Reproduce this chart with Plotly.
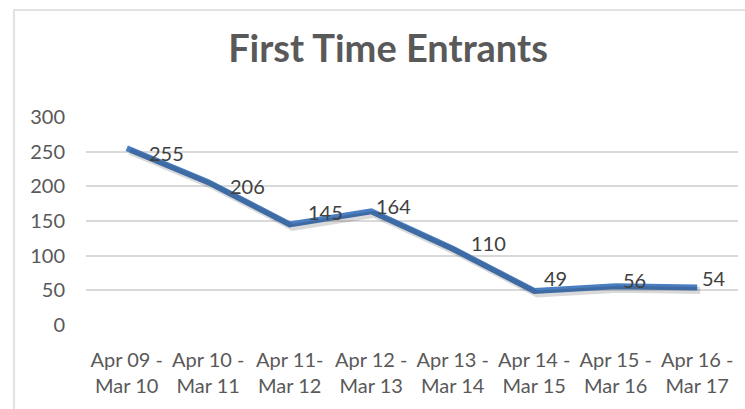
import plotly.graph_objects as go

# ---- data ----
categories = ["Apr 09 -<br>Mar 10", "Apr 10 -<br>Mar 11", "Apr 11-<br>Mar 12", "Apr 12 -<br>Mar 13",
              "Apr 13 -<br>Mar 14", "Apr 14 -<br>Mar 15", "Apr 15 -<br>Mar 16", "Apr 16 -<br>Mar 17"]
entrants = [255, 206, 145, 164, 110, 49, 56, 54]
y_ticks = [0, 50, 100, 150, 200, 250, 300]

# ---- styles ----
LINE_COLOR = "#4A7EC1"
TEXT_COLOR = "#595959"
LABEL_COLOR = "#404040"
GRID_COLOR = "#D9D9D9"
FONT = "Lato"
# label offsets in px (right, down) relative to each point
label_offsets = [(40, 5), (39, 4), (36, -12), (22, -5), (36, -6), (21, -13), (19, -6), (17, -10)]

W, H = 745, 409
L, R, T, B = 86, 7, 117, 84
plot_w = W - L - R
plot_h = H - T - B

x_idx = list(range(len(categories)))

fig = go.Figure()

# shadow (same data drawn on slightly offset overlay axes)
px_per_x = plot_w / 8.0
px_per_y = plot_h / 300.0
sx = 3 / px_per_x
sy = 3 / px_per_y
fig.add_trace(go.Scatter(
    x=x_idx, y=entrants, mode="lines",
    line=dict(color="rgba(0,0,0,0.15)", width=7),
    xaxis="x2", yaxis="y2", hoverinfo="skip", showlegend=False,
))

fig.add_trace(go.Scatter(
    x=x_idx, y=entrants, mode="lines",
    line=dict(color=LINE_COLOR, width=6),
    showlegend=False,
))

annotations = []
for i, v in enumerate(entrants):
    dx, dy = label_offsets[i]
    annotations.append(dict(
        x=i, y=v, xref="x", yref="y", text=str(v), showarrow=False,
        xanchor="center", yanchor="middle", xshift=dx, yshift=-dy,
        font=dict(family=FONT, size=20, color=LABEL_COLOR),
    ))

fig.update_layout(
    width=W, height=H,
    margin=dict(l=L, r=R, t=T, b=B, pad=0),
    paper_bgcolor="white", plot_bgcolor="white",
    title=dict(text="<b>First Time Entrants</b>", x=388 / W, xanchor="center",
               y=1 - 49 / H, yanchor="middle",
               font=dict(family=FONT, size=38, color=TEXT_COLOR)),
    xaxis=dict(range=[-0.5, 7.5], tickmode="array", tickvals=x_idx, ticktext=categories,
               showgrid=False, zeroline=False, showline=False, ticks="",
               tickfont=dict(family=FONT, size=20, color=TEXT_COLOR),
               ticklabelstandoff=21, fixedrange=True),
    yaxis=dict(range=[0, 300], tickmode="array", tickvals=y_ticks,
               showgrid=True, gridcolor=GRID_COLOR, gridwidth=1.5,
               zeroline=False, showline=False, ticks="",
               tickfont=dict(family=FONT, size=20, color=TEXT_COLOR),
               ticklabelstandoff=20, fixedrange=True),
    xaxis2=dict(range=[-0.5 - sx, 7.5 - sx], overlaying="x", visible=False, fixedrange=True),
    yaxis2=dict(range=[0 + sy, 300 + sy], overlaying="y", visible=False, fixedrange=True),
    annotations=annotations,
    shapes=[dict(type="rect", xref="paper", yref="paper",
                 x0=(14 - L) / plot_w, x1=1.1, y0=-0.6, y1=(H - B - 10) / plot_h,
                 line=dict(color=GRID_COLOR, width=1.5), fillcolor="rgba(0,0,0,0)", layer="below")],
)

fig.write_html("out.html", config={"displayModeBar": False},
               post_script="document.body.style.margin='0';document.body.style.overflow='hidden';")
